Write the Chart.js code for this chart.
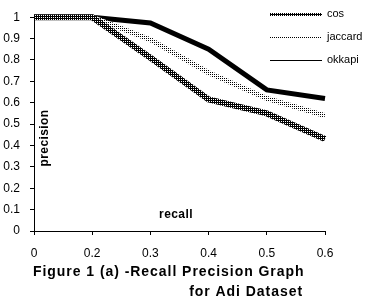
<!DOCTYPE html>
<html>
<head>
<meta charset="utf-8">
<script src="https://cdn.jsdelivr.net/npm/chart.js@4/dist/chart.umd.min.js"></script>
<style>
  html, body { margin: 0; padding: 0; background: #fff; }
  #wrap { width: 370px; height: 302px; position: relative; }
</style>
</head>
<body>
<div id="wrap"><canvas id="chart"></canvas></div>
<script>
// recall points on the x axis
const recallLabels = ['0', '0.2', '0.3', '0.4', '0.5', '0.6'];

// precision per method
const cosValues     = [1.0, 1.0, 0.81, 0.615, 0.55, 0.43];
const jaccardValues = [1.0, 1.0, 0.895, 0.74, 0.62, 0.54];
const okkapiValues  = [1.0, 1.0, 0.973, 0.85, 0.66, 0.62];

const seriesNames = ['cos', 'jaccard', 'okkapi'];

const titleLines = ['Figure 1 (a) -Recall Precision Graph', 'for Adi Dataset'];

// small tiled patterns to fake the excel line fills
function makePattern(cells, size) {
    const c = document.createElement('canvas');
    c.width = size;
    c.height = size;
    const g = c.getContext('2d');
    for (const [x, y, col] of cells) {
        g.fillStyle = col;
        g.fillRect(x, y, 1, 1);
    }
    return g.createPattern(c, 'repeat');
}

const cosPattern = makePattern([[0, 0, '#000'], [1, 0, '#000'], [0, 1, '#000'], [1, 1, '#fff']], 2);
const jaccardPattern = makePattern([[0, 0, '#000'], [1, 0, '#fff'], [0, 1, '#fff'], [1, 1, '#fff']], 2);

// legend samples (thinner than the plotted lines, like the original)
const legendStyles = [
    { stroke: cosPattern, width: 3, dash: [] },
    { stroke: '#000', width: 1, dash: [1, 1] },
    { stroke: '#000', width: 1, dash: [] },
];

const overlayText = {
    id: 'overlayText',
    afterDraw(chart) {
        const ctx = chart.ctx;
        ctx.save();
        ctx.fillStyle = '#000';

        // axis titles sitting inside the plot
        ctx.font = 'bold 12px "Liberation Sans"';
        ctx.letterSpacing = '0.4px';
        ctx.textAlign = 'center';
        ctx.textBaseline = 'middle';
        ctx.fillText('recall', 176, 215);
        ctx.save();
        ctx.translate(45, 138);
        ctx.rotate(-Math.PI / 2);
        ctx.fillText('precision', 0, 0);
        ctx.restore();

        // legend
        ctx.font = '11px "Liberation Sans"';
        ctx.letterSpacing = '0px';
        ctx.textAlign = 'left';
        seriesNames.forEach((name, i) => {
            const y = 14 + i * 23;
            const st = legendStyles[i];
            ctx.beginPath();
            ctx.setLineDash(st.dash);
            ctx.lineWidth = st.width;
            ctx.strokeStyle = st.stroke;
            ctx.moveTo(270, y + 0.5);
            ctx.lineTo(322, y + 0.5);
            ctx.stroke();
            ctx.setLineDash([]);
            ctx.fillText(name, 327, y);
        });

        // caption
        ctx.font = 'bold 14px "Liberation Sans"';
        ctx.letterSpacing = '0.95px';
        ctx.textAlign = 'left';
        ctx.fillText(titleLines[0], 33, 272);
        ctx.textAlign = 'right';
        ctx.fillText(titleLines[1], 303, 292);
        ctx.restore();
    }
};

new Chart(document.getElementById('chart'), {
    type: 'line',
    data: {
        labels: recallLabels,
        datasets: [
            {
                label: seriesNames[0],
                data: cosValues,
                borderColor: cosPattern,
                borderWidth: 6,
                pointRadius: 0,
                tension: 0,
                clip: false,
            },
            {
                label: seriesNames[1],
                data: jaccardValues,
                borderColor: jaccardPattern,
                borderWidth: 5,
                pointRadius: 0,
                tension: 0,
                clip: false,
            },
            {
                label: seriesNames[2],
                data: okkapiValues,
                borderColor: '#000',
                borderWidth: 5,
                pointRadius: 0,
                tension: 0,
                clip: false,
            },
        ]
    },
    options: {
        responsive: true,
        maintainAspectRatio: false,
        animation: false,
        layout: { padding: { top: 7, right: 45, left: 0, bottom: 0 } },
        plugins: {
            legend: { display: false },
            tooltip: { enabled: false },
        },
        scales: {
            x: {
                type: 'category',
                offset: false,
                afterFit: (s) => { s.height = 71; },
                grid: { display: true, drawOnChartArea: false, tickLength: 4, color: '#000' },
                border: { display: true, color: '#000', width: 1 },
                ticks: {
                    color: '#000',
                    font: { family: 'Liberation Sans', size: 12 },
                    padding: 11,
                    maxRotation: 0,
                },
            },
            y: {
                min: 0,
                max: 1,
                afterFit: (s) => { s.width = 34; },
                grid: { display: true, drawOnChartArea: false, tickLength: 4, color: '#000' },
                border: { display: true, color: '#000', width: 1 },
                ticks: {
                    stepSize: 0.1,
                    color: '#000',
                    font: { family: 'Liberation Sans', size: 12 },
                    padding: 10,
                    callback: (v) => String(+v.toFixed(1)),
                },
            },
        },
    },
    plugins: [overlayText],
});
</script>
</body>
</html>
